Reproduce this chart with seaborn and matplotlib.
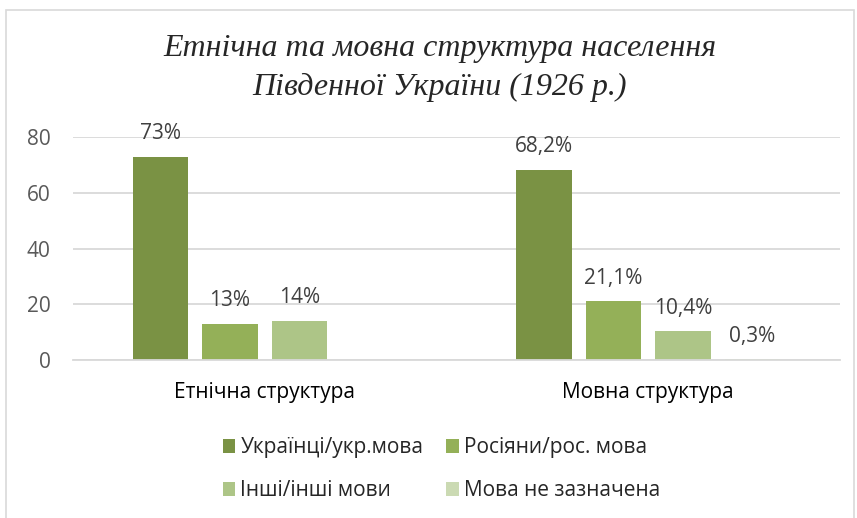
import numpy as np
import pandas as pd
import matplotlib
matplotlib.use("Agg")
import matplotlib.pyplot as plt
import seaborn as sns

# Data.
categories = ["Етнічна структура", "Мовна структура"]
groups = ["Українці/укр.мова", "Росіяни/рос. мова", "Інші/інші мови", "Мова не зазначена"]
ethnic_values = [73, 13, 14, np.nan]
language_values = [68.2, 21.1, 10.4, 0.3]
ethnic_labels = ["73%", "13%", "14%", ""]
language_labels = ["68,2%", "21,1%", "10,4%", "0,3%"]
colors = ["#7a9244", "#94b058", "#adc587", "#cbdab3"]

# Long table for seaborn.
df = pd.DataFrame({
    "category": [categories[0]] * 4 + [categories[1]] * 4,
    "group": groups * 2,
    "value": ethnic_values + language_values,
    "label": ethnic_labels + language_labels,
})

sns.set_style("white")
plt.rcParams["font.family"] = ["Open Sans", "DejaVu Sans"]

fig = plt.figure(figsize=(8.57, 5.18), dpi=100)
ax = fig.add_axes([0.085, 0.305, 0.895, 0.4305])

sns.barplot(data=df, x="category", y="value", hue="group", order=categories,
            hue_order=groups, palette=colors, width=0.725, gap=0.2,
            saturation=1, linewidth=0, ax=ax, legend=True, errorbar=None)

# Data labels above the bars (one container per group, only drawn bars).
for cont, grp in zip(ax.containers, groups):
    sub = df[(df["group"] == grp) & df["value"].notna()]
    for bar, lab in zip(cont, sub["label"]):
        ax.annotate(lab, (bar.get_x() + bar.get_width() / 2, bar.get_height()),
                    xytext=(0, 9), textcoords="offset points",
                    ha="center", va="bottom", fontsize=15, color="#404040",
                    annotation_clip=False)

# Axis styling.
ax.set_ylim(0, 80)
ax.set_yticks([0, 20, 40, 60, 80])
ax.yaxis.grid(True, color="#d9d9d9", linewidth=1.3)
ax.set_axisbelow(True)
for s in ["top", "right", "left"]:
    ax.spines[s].set_visible(False)
ax.spines["bottom"].set_color("#d9d9d9")
ax.spines["bottom"].set_linewidth(1.3)
ax.tick_params(axis="both", length=0, labelsize=15, labelcolor="#595959")
ax.tick_params(axis="x", pad=16, labelcolor="#000000")
ax.tick_params(axis="y", pad=16)
ax.set_xlabel("")
ax.set_ylabel("")

# Legend: two rows, two columns.
handles, labels = ax.get_legend_handles_labels()
order = [0, 2, 1, 3]
ax.get_legend().remove()
fig.legend([handles[i] for i in order], [labels[i] for i in order],
           loc="center", bbox_to_anchor=(0.515, 0.094), ncol=2, frameon=False,
           fontsize=15, handlelength=0.6, handleheight=0.6, handletextpad=0.25,
           columnspacing=1.1, labelspacing=1.05)

# Title.
fig.text(0.513, 0.868, "Етнічна та мовна структура населення\nПівденної України (1926 р.)",
         ha="center", va="center", fontsize=23, style="italic",
         family=["Liberation Serif", "DejaVu Serif"], linespacing=1.45)

# Chart frame.
fig.add_artist(plt.Rectangle((0.007, -0.05), 0.99, 1.03, transform=fig.transFigure,
                             fill=False, edgecolor="#d9d9d9", linewidth=1.2))

fig.savefig("out.png", dpi=100)
